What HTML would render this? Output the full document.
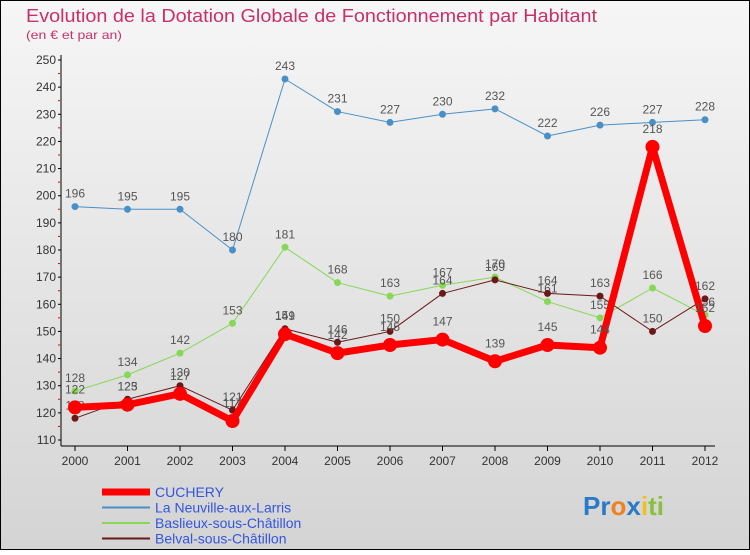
<!DOCTYPE html>
<html><head><meta charset="utf-8"><style>
body{margin:0;width:750px;height:550px;overflow:hidden;font-family:"Liberation Sans",sans-serif}
</style></head><body>
<svg id="c" width="750" height="550" xmlns="http://www.w3.org/2000/svg">
<defs><linearGradient id="bg" x1="0" y1="0" x2="0" y2="1"><stop offset="0" stop-color="#f6f6f6"/><stop offset="1" stop-color="#d4d4d4"/></linearGradient></defs>
<rect width="750" height="550" fill="url(#bg)"/>
<rect x="0.5" y="0.5" width="749" height="549" fill="none" stroke="#000"/>
<text x="26" y="22" font-size="18" fill="#c8306a" textLength="571" lengthAdjust="spacingAndGlyphs">Evolution de la Dotation Globale de Fonctionnement par Habitant</text>
<text x="26" y="39" font-size="12" fill="#c8306a" textLength="96" lengthAdjust="spacingAndGlyphs">(en € et par an)</text>
<g id="g"></g>
</svg>
<script>
const years=[2000,2001,2002,2003,2004,2005,2006,2007,2008,2009,2010,2011,2012];
const cuchery=[122,123,127,117,149,142,145,147,139,145,144,218,152];
const neuville=[196,195,195,180,243,231,227,230,232,222,226,227,228];
const baslieux=[128,134,142,153,181,168,163,167,170,161,155,166,156];
const belval=[118,125,130,121,151,146,150,164,169,164,163,150,162];
const yTicks=[110,120,130,140,150,160,170,180,190,200,210,220,230,240,250];
const NS='http://www.w3.org/2000/svg';
const g=document.getElementById('g');
const x=i=>75+i*52.5;
const y=v=>440-(v-110)*380/140;
function el(t,a,p){const e=document.createElementNS(NS,t);for(const k in a)e.setAttribute(k,a[k]);(p||g).appendChild(e);return e;}
let ax=el('line',{x1:61,y1:55,x2:61,y2:446,stroke:'#000'});


let xa=el('line',{x1:61,y1:446,x2:715,y2:446,stroke:'#000'});


yTicks.forEach(v=>{
 el('line',{x1:58,y1:y(v),x2:61,y2:y(v),stroke:'#000'});
 if(v<250) el('line',{x1:58,y1:y(v+5),x2:60,y2:y(v+5),stroke:'#e00'});
 const t=el('text',{x:56,y:y(v)+4,'font-size':12,'text-anchor':'end',fill:'#333'});t.textContent=v;
 
 
});
years.forEach((yr,i)=>{
 el('line',{x1:x(i),y1:446,x2:x(i),y2:451,stroke:'#000'});
 const t=el('text',{x:x(i),y:465,'font-size':12,'text-anchor':'middle',fill:'#333'});t.textContent=yr;
 
 
});
function series(d,col,w,r,name,labelOff){
 const pl=el('polyline',{points:d.map((v,i)=>x(i)+','+y(v)).join(' '),fill:'none',stroke:col,'stroke-width':w,'stroke-linejoin':'round'});
 
 
 d.forEach((v,i)=>{
  const c=el('circle',{cx:x(i),cy:y(v),r:r,fill:col});
  
  
  const t=el('text',{x:x(i),y:y(v)-labelOff,'font-size':12,'text-anchor':'middle',fill:'#555'});t.textContent=v;
  
  
 });
}
series(neuville,'#4a90c8',1,3.5,'neuville',9);
series(baslieux,'#88d858',1,3.5,'baslieux',9);
series(belval,'#6a1818',1,3.5,'belval',9);
series(cuchery,'#ff0000',7,7,'cuchery',14);
const leg=[['CUCHERY','#ff0000',7],['La Neuville-aux-Larris','#4a90c8',2],['Baslieux-sous-Châtillon','#88d858',2],['Belval-sous-Châtillon','#6a1818',2]];
leg.forEach((l,i)=>{
 const yy=492+i*15.5;
 const ln=el('line',{x1:102,y1:yy,x2:150,y2:yy,stroke:l[1],'stroke-width':l[2]});
 
 
 const t=el('text',{x:155,y:yy+5,'font-size':14,fill:'#3355dd'});t.textContent=l[0];
 
 
});
const p=el('text',{x:583,y:515,'font-size':26,'font-weight':'bold',fill:'#3a8ad0'});
p.innerHTML='<tspan fill="#2a7ac8">Pr</tspan><tspan fill="#f08020">o</tspan><tspan fill="#2a7ac8">x</tspan><tspan fill="#f0c020">i</tspan><tspan fill="#8ac040">ti</tspan>';


</script>
</body></html>
